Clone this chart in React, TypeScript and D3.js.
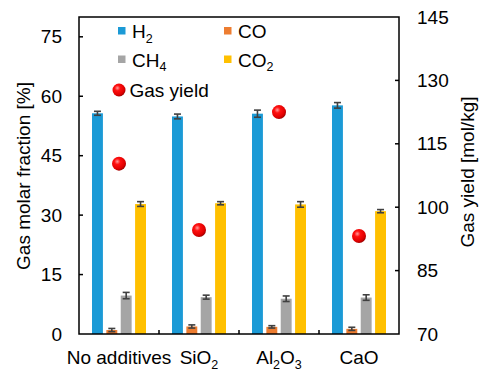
import React from "react";
import * as d3 from "d3";

const categories = ["No additives", "SiO2", "Al2O3", "CaO"];
const seriesNames = ["H2", "CO", "CH4", "CO2"];
const h2 = [55.7, 54.9, 55.6, 57.7];
const h2Err = [0.5, 0.6, 0.9, 0.7];
const co = [1.0, 1.9, 1.8, 1.3];
const coErr = [0.4, 0.4, 0.3, 0.4];
const ch4 = [9.7, 9.3, 8.9, 9.2];
const ch4Err = [0.8, 0.5, 0.7, 0.7];
const co2 = [32.8, 33.0, 32.7, 31.0];
const co2Err = [0.6, 0.4, 0.7, 0.4];
const gasYield = [110.3, 94.6, 122.5, 93.2];
const leftTicks = [0, 15, 30, 45, 60, 75];
const rightTicks = [70, 85, 100, 115, 130, 145];
const colors = ["#1B9AD6", "#ED7D31", "#A5A5A5", "#FFC000"];

const seriesVals = [h2, co, ch4, co2];
const seriesErrs = [h2Err, coErr, ch4Err, co2Err];

const M = { left: 79, right: 399, top: 17, bottom: 334 };
const FONT = "Arial, 'Liberation Sans', sans-serif";
const FS = 19;

function Label({ text, x, y, anchor }: { text: string; x: number; y: number; anchor?: string }) {
  const parts = text.match(/[A-Za-z ]+|\d+/g) || [text];
  const isFormula = /\d/.test(text);
  return (
    <text x={x} y={y} textAnchor={anchor || "start"} fontFamily={FONT} fontSize={FS} fill="#000">
      {isFormula
        ? parts.map((p, i) =>
            /^\d+$/.test(p) ? (
              <tspan key={i} fontSize={12.5} dy={4.5}>{p}</tspan>
            ) : (
              <tspan key={i} dy={i > 0 ? -4.5 : 0}>{p}</tspan>
            )
          )
        : text}
    </text>
  );
}

export default function App() {
  const x = d3.scaleBand().domain(categories).range([M.left, M.right]).padding(0);
  const inner = d3
    .scaleBand()
    .domain(seriesNames)
    .range([13, 80 - 13])
    .paddingInner(0.24);
  const yL = d3.scaleLinear().domain([0, 80]).range([M.bottom, M.top]);
  const yR = d3.scaleLinear().domain([70, 145]).range([M.bottom, M.top]);
  const bw = inner.bandwidth();

  return (
    <svg width={481} height={372} style={{ position: "absolute", left: 0, top: 0 }}>
      <defs>
        <radialGradient id="sph" cx="0.38" cy="0.35" r="0.7">
          <stop offset="0" stopColor="#FF9A9A" />
          <stop offset="0.3" stopColor="#FF1010" />
          <stop offset="0.75" stopColor="#E00000" />
          <stop offset="1" stopColor="#900000" />
        </radialGradient>
      </defs>
      <rect width={481} height={372} fill="#fff" />
      {categories.map((c, ci) =>
        seriesNames.map((s, si) => {
          const bx = (x(c) as number) + (inner(s) as number);
          const v = seriesVals[si][ci];
          const e = seriesErrs[si][ci];
          const cx = bx + bw / 2;
          return (
            <g key={c + s}>
              <rect x={bx} y={yL(v)} width={bw} height={yL(0) - yL(v)} fill={colors[si]} />
              <g stroke="#404040" strokeWidth={1.6}>
                <line x1={cx} x2={cx} y1={yL(v - e)} y2={yL(v + e)} />
                <line x1={cx - 3.5} x2={cx + 3.5} y1={yL(v + e)} y2={yL(v + e)} />
                <line x1={cx - 3.5} x2={cx + 3.5} y1={yL(v - e)} y2={yL(v - e)} />
              </g>
            </g>
          );
        })
      )}
      {categories.map((c, ci) => (
        <circle key={c} cx={(x(c) as number) + x.bandwidth() / 2} cy={yR(gasYield[ci])} r={7} fill="url(#sph)" />
      ))}
      <rect x={M.left} y={M.top} width={M.right - M.left} height={M.bottom - M.top} fill="none" stroke="#000" strokeWidth={1.5} />
      {leftTicks.map((t) => (
        <g key={"l" + t}>
          {t > 0 && <line x1={M.left} x2={M.left + 4} y1={yL(t)} y2={yL(t)} stroke="#000" strokeWidth={1.5} />}
          <text x={62} y={yL(t) + 6.5} textAnchor="end" fontFamily={FONT} fontSize={FS}>{t}</text>
        </g>
      ))}
      {rightTicks.map((t) => (
        <g key={"r" + t}>
          {t > 70 && t < 145 && <line x1={M.right - 4} x2={M.right} y1={yR(t)} y2={yR(t)} stroke="#000" strokeWidth={1.5} />}
          <text x={417} y={yR(t) + 6.5} textAnchor="start" fontFamily={FONT} fontSize={FS}>{t}</text>
        </g>
      ))}
      {categories.slice(1).map((c) => (
        <line key={"xt" + c} x1={x(c) as number} x2={x(c) as number} y1={M.bottom} y2={M.bottom - 4} stroke="#000" strokeWidth={1.5} />
      ))}
      {categories.map((c) => (
        <Label key={"xl" + c} text={c} x={(x(c) as number) + x.bandwidth() / 2} y={364} anchor="middle" />
      ))}
      <text transform={`translate(30,176) rotate(-90)`} textAnchor="middle" fontFamily={FONT} fontSize={FS}>
        Gas molar fraction [%]
      </text>
      <text transform={`translate(474,172) rotate(-90)`} textAnchor="middle" fontFamily={FONT} fontSize={FS}>
        Gas yield [mol/kg]
      </text>
      {[
        { n: "H2", c: colors[0], x: 118, y: 38 },
        { n: "CO", c: colors[1], x: 224, y: 38 },
        { n: "CH4", c: colors[2], x: 118, y: 66.5 },
        { n: "CO2", c: colors[3], x: 224, y: 66.5 },
      ].map((l) => (
        <g key={"lg" + l.n}>
          <rect x={l.x} y={l.y - 11} width={7.5} height={7.5} fill={l.c} />
          <Label text={l.n} x={l.x + 14} y={l.y} />
        </g>
      ))}
      <circle cx={119} cy={90} r={6.5} fill="url(#sph)" />
      <Label text="Gas yield" x={129.5} y={96.5} />
    </svg>
  );
}
